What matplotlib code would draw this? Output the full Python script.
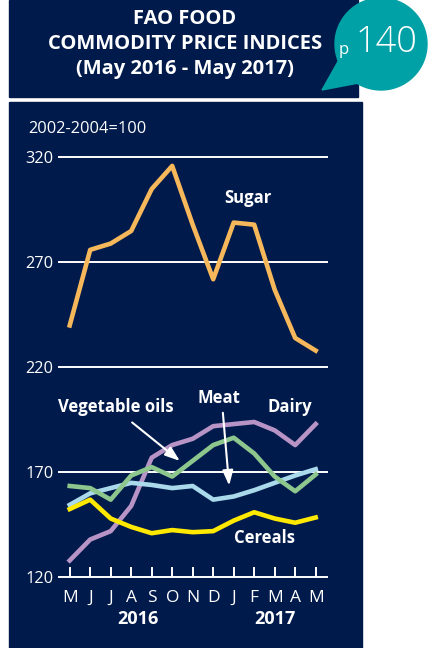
import numpy as np
import matplotlib
matplotlib.use("Agg")
import matplotlib.pyplot as plt
from matplotlib.patches import Rectangle, Circle, Polygon

plt.rcParams['font.family'] = ['Open Sans', 'DejaVu Sans']

months = ['M', 'J', 'J', 'A', 'S', 'O', 'N', 'D', 'J', 'F', 'M', 'A', 'M']
sugar = [240, 276, 279, 285, 305, 316, 288, 262, 289, 288, 257, 234, 228]
dairy = [128, 138, 142, 154, 177, 183, 186, 192, 193, 194, 190, 183, 193]
veg_oils = [163.5, 162.5, 157, 168.5, 172.5, 168, 175.5, 183, 186.5, 179, 168, 161, 169]
meat = [154.5, 160, 162.5, 165, 164, 162.5, 163.5, 157, 158.5, 161.5, 165, 168.5, 171.5]
cereals = [152.5, 157, 148, 144, 141, 142.5, 141.5, 142, 147, 151, 148, 146, 148.5]
yticks = [120, 170, 220, 270, 320]

NAVY = '#001a4b'
TEAL = '#00a1a6'
W, H = 430, 648

fig = plt.figure(figsize=(4.3, 6.48), dpi=100, facecolor='white')


def fx(px):
    return px / W


def fy(py):
    return 1 - py / H


# background boxes
fig.patches.append(Rectangle((fx(9), fy(97)), fx(358) - fx(9), fy(0) - fy(97),
                             transform=fig.transFigure, color=NAVY, zorder=-2))
fig.patches.append(Rectangle((fx(9), fy(648)), fx(362) - fx(9), fy(102) - fy(648),
                             transform=fig.transFigure, color=NAVY, zorder=-2))

# speech bubble
fig.patches.append(Circle((381, H - 44), 46, transform=None, color=TEAL, zorder=-1))
fig.patches.append(Polygon([(322, H - 90), (340, H - 58), (364, H - 82)], closed=True,
                           transform=None, color=TEAL, zorder=-1))
fig.text(fx(386), fy(42), '140', color='white', fontsize=26, ha='center', va='center',
         fontweight='light')
fig.text(fx(344), fy(50), 'p', color='white', fontsize=12, ha='center', va='center')

title = 'FAO FOOD\nCOMMODITY PRICE INDICES\n(May 2016 - May 2017)'
fig.text(fx(185), fy(44), title, color='white', fontsize=14.5, fontweight='bold',
         ha='center', va='center', linespacing=1.33)

fig.text(fx(28), fy(129), '2002-2004=100', color='white', fontsize=11.8, ha='left', va='center')

ax = fig.add_axes([fx(59), fy(577.3), fx(327) - fx(59), fy(157.5) - fy(577.3)])
ax.set_facecolor('none')
x = np.arange(len(months))
ax.set_xlim((59 - 69.7) / 20.5, (327 - 69.7) / 20.5)
ax.set_ylim(120, 320)
for s in ax.spines.values():
    s.set_visible(False)

for yv in yticks:
    ax.axhline(yv, color='white', lw=1.4, zorder=1, clip_on=False)

lw = 3.3
ax.plot(x, sugar, color='#f6b85a', lw=lw, zorder=3)
ax.plot(x, dairy, color='#b894c6', lw=lw, zorder=3)
ax.plot(x, meat, color='#a9d9ea', lw=lw, zorder=4)
ax.plot(x, veg_oils, color='#8ec78e', lw=lw, zorder=5)
ax.plot(x, cereals, color='#ffe900', lw=lw, zorder=6)

ax.set_yticks(yticks)
ax.set_yticklabels([str(v) for v in yticks])
ax.tick_params(axis='y', length=0, pad=4, labelcolor='white', labelsize=11.8)
ax.set_xticks(x)
ax.set_xticklabels(months)
ax.tick_params(axis='x', direction='in', length=7, width=1.4, color='white',
               labelcolor='white', labelsize=12.5, pad=9)

bold = dict(color='white', fontsize=12, fontweight='bold', ha='center', va='center')
ax.text(8.7, 300.7, 'Sugar', **bold)
ax.text(2.26, 201.2, 'Vegetable oils', **bold)
ax.text(7.28, 205.4, 'Meat', **bold)
ax.text(10.75, 201.2, 'Dairy', **bold)
ax.text(9.52, 138.7, 'Cereals', **bold)
ax.text(3.33, 100.3, '2016', clip_on=False, **dict(bold, fontsize=13))
ax.text(10.0, 100.3, '2017', clip_on=False, **dict(bold, fontsize=13))

arrow = dict(arrowstyle='-|>,head_length=0.9,head_width=0.32', color='white', lw=1.5)
ax.annotate('', xy=(5.48, 174.6), xytext=(2.94, 194.6), arrowprops=arrow, zorder=7)
ax.annotate('', xy=(7.79, 162.4), xytext=(7.46, 199.7), arrowprops=arrow, zorder=7)

fig.savefig('out.png', dpi=100, facecolor='white')
